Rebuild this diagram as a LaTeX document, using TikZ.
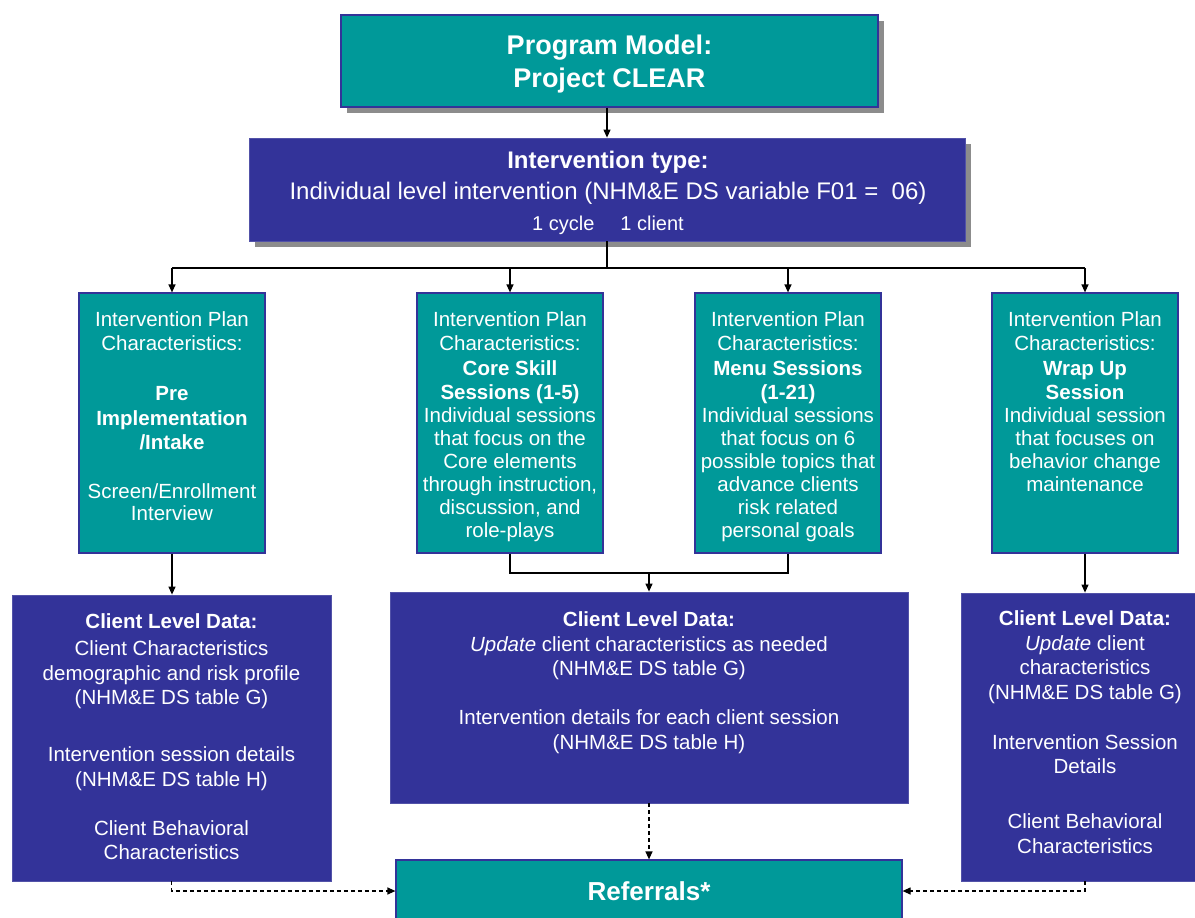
\documentclass[tikz,border=0pt]{standalone}
\usepackage{fontspec}
\setmainfont{Liberation Sans}
\usetikzlibrary{arrows.meta,shadows,calc}
\definecolor{teal1}{HTML}{009999}
\definecolor{blue1}{HTML}{333399}
\definecolor{shade}{HTML}{8C8C8C}
\newcommand\fsz[2]{\fontsize{#1}{#2}\selectfont}
\begin{document}
\begin{tikzpicture}[x=1pt,y=-1pt,
 tealbox/.style={rectangle, fill=teal1, draw=blue1, line width=1.2pt, inner sep=0pt},
 bluebox/.style={rectangle, fill=blue1, draw=blue1!85!white, line width=0.8pt, inner sep=0pt},
 shadowed/.style={drop shadow={shadow xshift=6pt, shadow yshift=-6pt, fill=shade, opacity=1}},
 txt/.style={text=white, align=center, inner sep=0pt, font=\fsz{20.5}{24.5}},
 conn/.style={line width=1.2pt},
 arr/.style={-{Triangle[length=8pt,width=7pt]}, line width=1.2pt},
 darr/.style={arr, dash pattern=on 4pt off 3pt}
]
\clip (0,0) rectangle (1195,918);
\fill[white] (0,0) rectangle (1195,918);

% top boxes
\node[tealbox, shadowed, minimum width=537pt, minimum height=92pt] (top) at (609.5,61) {};
\node[txt, font=\fsz{27}{33}\bfseries] (topt) at (609.5,64.5) {Program Model:\\Project CLEAR};
\node[bluebox, shadowed, minimum width=716pt, minimum height=103pt] (ib) at (607,189.5) {};
\node[txt, font=\fsz{24}{31}] (ibt) at (608,193) {{\bfseries Intervention type:}\\Individual level intervention (NHM\&E DS variable F01 =\ \ 06)\\{\fsz{20}{31}1 cycle\hspace{26pt}1 client}};

% plan boxes
\node[tealbox, minimum width=186pt, minimum height=260pt] (p1) at (172,423) {};
\node[tealbox, minimum width=186pt, minimum height=260pt] (p2) at (510,423) {};
\node[tealbox, minimum width=186pt, minimum height=260pt] (p3) at (788,423) {};
\node[tealbox, minimum width=186pt, minimum height=260pt] (p4) at (1085,423) {};

\node[txt, anchor=north] (p1t) at (172,311) {Intervention Plan\\Characteristics:\\[25.5pt]\textbf{Pre}\\\textbf{Implementation}\\\textbf{/Intake}\\[24.5pt]Screen/Enrollment\\[-2.5pt]Interview};
\node[txt, anchor=north] (p2t) at (510,311) {Intervention Plan\\Characteristics:\\\textbf{Core Skill}\\\textbf{Sessions (1-5)}\\[-1.5pt]Individual sessions\\[-1.5pt]that focus on the\\[-1.5pt]Core elements\\[-1.5pt]through instruction,\\[-1.5pt]discussion, and\\[-1.5pt]role-plays};
\node[txt, anchor=north] (p3t) at (788,311) {Intervention Plan\\Characteristics:\\\textbf{Menu Sessions}\\\textbf{(1-21)}\\[-1.5pt]Individual sessions\\[-1.5pt]that focus on 6\\[-1.5pt]possible topics that\\[-1.5pt]advance clients\\[-1.5pt]risk related\\[-1.5pt]personal goals};
\node[txt, anchor=north] (p4t) at (1085,311) {Intervention Plan\\Characteristics:\\\textbf{Wrap Up}\\\textbf{Session}\\[-1.5pt]Individual session\\[-1.5pt]that focuses on\\[-1.5pt]behavior change\\[-1.5pt]maintenance};

% client level boxes
\node[bluebox, minimum width=319pt, minimum height=286pt] (c1) at (171.5,738) {};
\node[bluebox, minimum width=518pt, minimum height=211pt] (c2) at (649,697.5) {};
\node[bluebox, minimum width=240pt, minimum height=288pt] (c3) at (1081,737) {};

\node[txt, anchor=north] (c1t) at (171.5,613.5) {\textbf{Client Level Data:}\\[2.5pt]Client Characteristics\\demographic and risk profile\\(NHM\&E DS table G)\\[32.5pt]Intervention session details\\(NHM\&E DS table H)\\[24.5pt]Client Behavioral\\Characteristics};
\node[txt, anchor=north] (c2t) at (649,611.5) {\textbf{Client Level Data:}\\\textit{Update} client characteristics as needed\\(NHM\&E DS table G)\\[24.5pt]Intervention details for each client session\\(NHM\&E DS table H)};
\node[txt, anchor=north] (c3t) at (1085,610.5) {\textbf{Client Level Data:}\\\textit{Update} client\\characteristics\\(NHM\&E DS table G)\\[25.5pt]Intervention Session\\Details\\[30.5pt]Client Behavioral\\Characteristics};

% referrals
\node[tealbox, minimum width=506pt, minimum height=62pt, text=white, font=\fsz{26}{30}\bfseries] (ref) at (649,891) {Referrals*};

% connectors
\coordinate (bus) at (609,268);
\coordinate (j) at (650,573);
\draw[arr] (top.south -| ib.north) -- (ib.north);
\draw[conn] (ib.south) -- (ib.south |- bus);
\draw[conn] (p1.north |- bus) -- (p4.north |- bus);
\foreach \p in {p1,p2,p3,p4} \draw[arr] (\p.north |- bus) -- (\p.north);
\draw[arr] (p1.south) -- (p1.south |- c1.north);
\draw[conn] (p2.south) |- (j) -| (p3.south);
\draw[arr] (c2.north |- j) -- (c2.north);
\draw[arr] (p4.south) -- (p4.south |- c3.north);
\draw[darr] (c2.south) -- (ref.north);
\draw[darr] (c1.south) |- (ref.west);
\draw[darr] (p4.south |- c3.south) |- (ref.east);
\end{tikzpicture}
\end{document}
